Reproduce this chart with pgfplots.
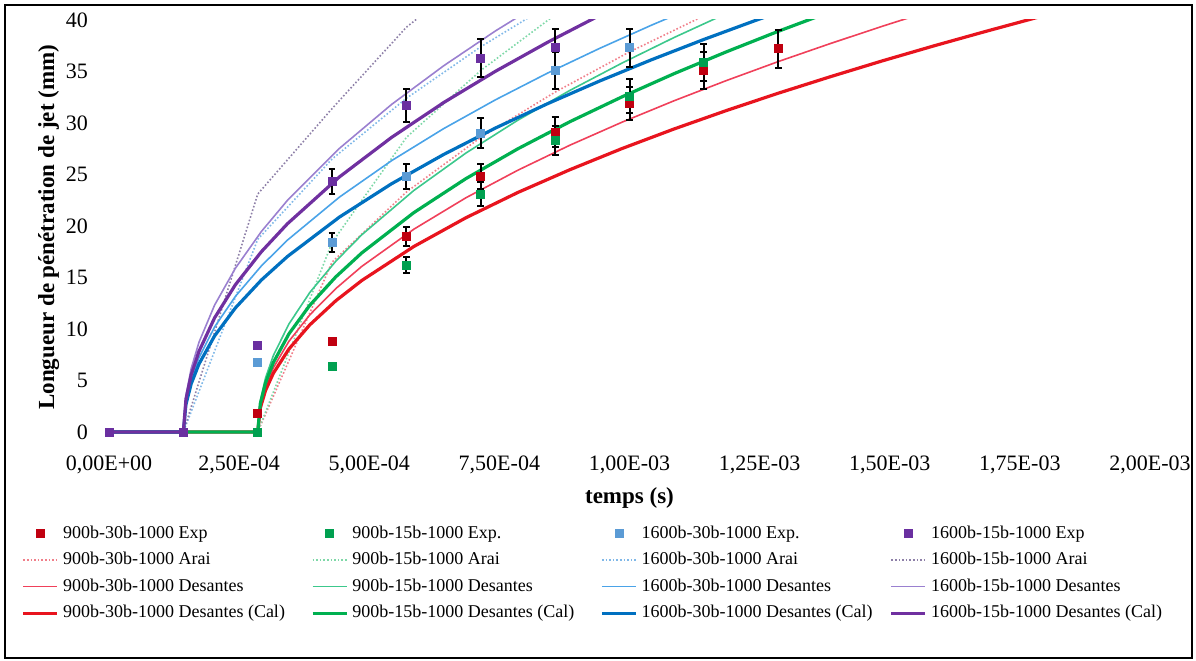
\documentclass[border=0pt]{standalone}
\usepackage{fontspec}
\setmainfont{Liberation Serif}
\usepackage{pgfplots}
\pgfplotsset{compat=1.18}
\definecolor{redExp}{HTML}{C00010}
\definecolor{redThick}{HTML}{E8141E}
\definecolor{redThin}{HTML}{F0405A}
\definecolor{redDot}{HTML}{F07F8A}
\definecolor{greenExp}{HTML}{00A050}
\definecolor{greenThick}{HTML}{00B050}
\definecolor{greenThin}{HTML}{3CC88C}
\definecolor{greenDot}{HTML}{7FD8A8}
\definecolor{blueExp}{HTML}{5B9BD5}
\definecolor{blueThick}{HTML}{0070C0}
\definecolor{blueThin}{HTML}{4AA3E8}
\definecolor{blueDot}{HTML}{80B8E8}
\definecolor{purpExp}{HTML}{6A2FA0}
\definecolor{purpThick}{HTML}{7030A0}
\definecolor{purpThin}{HTML}{9A80D0}
\definecolor{purpDot}{HTML}{8E80A8}
\newcommand{\LE}[1]{\makebox[122pt][l]{#1}}
\begin{document}
\begin{tikzpicture}
\useasboundingbox (-54.5pt,-114pt) rectangle (543.5pt,216pt);
\draw[line width=1.2pt] (-52pt,-113pt) rectangle (541.5pt,213.5pt);
\begin{axis}[
  at={(0,-1.29pt)}, anchor=south west,
  scale only axis, width=520.5pt, height=207.3pt,
  xmin=0, xmax=2e-3, ymin=-0.25, ymax=40,
  axis line style={draw=none}, major tick length=0pt,
  scaled x ticks=false, scaled y ticks=false,
  xtick={0,2.5e-4,5e-4,7.5e-4,1e-3,1.25e-3,1.5e-3,1.75e-3,2e-3},
  xticklabels={{0,00E+00},{2,50E-04},{5,00E-04},{7,50E-04},{1,00E-03},{1,25E-03},{1,50E-03},{1,75E-03},{2,00E-03}},
  ytick={0,5,10,15,20,25,30,35,40},
  yticklabels={0,5,10,15,20,25,30,35,40},
  ticklabel style={font=\fontsize{11}{12}\selectfont},
  xticklabel style={yshift=-7pt},
  yticklabel style={xshift=-7pt},
  xlabel={\textbf{temps (s)}},
  ylabel={\textbf{Longueur de pénétration de jet (mm)}},
  ylabel shift=-3.5pt,
  label style={font=\fontsize{11.5}{13}\selectfont},
  legend columns=4,
  legend cell align=left,
  legend style={draw=none, fill=none, font=\fontsize{9}{10}\selectfont,
    at={(-0.09,-0.2)}, anchor=north west,
    /tikz/every even column/.append style={column sep=0pt},
    row sep=1.5pt},
]
% legend
\addlegendimage{only marks, mark=square*, mark size=2pt, color=redExp}
\addlegendentry{\LE{900b-30b-1000 Exp}}
\addlegendimage{only marks, mark=square*, mark size=2pt, color=greenExp}
\addlegendentry{\LE{900b-15b-1000 Exp.}}
\addlegendimage{only marks, mark=square*, mark size=2pt, color=blueExp}
\addlegendentry{\LE{1600b-30b-1000 Exp.}}
\addlegendimage{only marks, mark=square*, mark size=2pt, color=purpExp}
\addlegendentry{\LE{1600b-15b-1000 Exp}}
\addlegendimage{densely dotted, line width=0.8pt, color=redDot}
\addlegendentry{\LE{900b-30b-1000 Arai}}
\addlegendimage{densely dotted, line width=0.8pt, color=greenDot}
\addlegendentry{\LE{900b-15b-1000 Arai}}
\addlegendimage{densely dotted, line width=0.8pt, color=blueDot}
\addlegendentry{\LE{1600b-30b-1000 Arai}}
\addlegendimage{densely dotted, line width=0.8pt, color=purpDot}
\addlegendentry{\LE{1600b-15b-1000 Arai}}
\addlegendimage{line width=0.8pt, color=redThin}
\addlegendentry{\LE{900b-30b-1000 Desantes}}
\addlegendimage{line width=0.8pt, color=greenThin}
\addlegendentry{\LE{900b-15b-1000 Desantes}}
\addlegendimage{line width=0.8pt, color=blueThin}
\addlegendentry{\LE{1600b-30b-1000 Desantes}}
\addlegendimage{line width=0.8pt, color=purpThin}
\addlegendentry{\LE{1600b-15b-1000 Desantes}}
\addlegendimage{line width=1.6pt, color=redThick}
\addlegendentry{\LE{900b-30b-1000 Desantes (Cal)}}
\addlegendimage{line width=1.6pt, color=greenThick}
\addlegendentry{\LE{900b-15b-1000 Desantes (Cal)}}
\addlegendimage{line width=1.6pt, color=blueThick}
\addlegendentry{\LE{1600b-30b-1000 Desantes (Cal)}}
\addlegendimage{line width=1.6pt, color=purpThick}
\addlegendentry{\LE{1600b-15b-1000 Desantes (Cal)}}

% Arai (dotted)
\addplot[forget plot, densely dotted, line width=0.8pt, color=redDot] coordinates {
(0,0) (1.4286e-4,0) (2.8571e-4,0) (4.2857e-4,16.5) (5.7143e-4,23.3) (7.1429e-4,28.6) (8.5714e-4,33.0) (1.0e-3,36.9) (1.1429e-3,40.4)};
\addplot[forget plot, densely dotted, line width=0.8pt, color=greenDot] coordinates {
(0,0) (1.4286e-4,0) (2.8571e-4,0) (4.2857e-4,18.4) (5.7143e-4,28.6) (7.1429e-4,35.1) (8.5714e-4,40.5)};
\addplot[forget plot, densely dotted, line width=0.8pt, color=blueDot] coordinates {
(0,0) (1.4286e-4,0) (2.8571e-4,18.7) (4.2857e-4,26.5) (5.7143e-4,32.4) (7.1429e-4,37.4) (8.5714e-4,41.8)};
\addplot[forget plot, densely dotted, line width=0.8pt, color=purpDot] coordinates {
(0,0) (1.4286e-4,0) (2.8571e-4,23.1) (4.2857e-4,31.4) (5.7143e-4,39.3) (7.1429e-4,45.0)};

% Desantes (thin)
\addplot[forget plot, line width=0.8pt, color=redThin] coordinates {
(0,0) (1.4286e-4,0) (2.8571e-4,0) (2.9071e-4,2.54) (3.0071e-4,4.40) (3.1571e-4,6.23) (3.4571e-4,8.81) (3.8571e-4,11.37) (4.3571e-4,13.92) (4.8571e-4,16.08) (5.8571e-4,19.69) (6.8571e-4,22.74) (7.8571e-4,25.42) (8.8571e-4,27.85) (9.8571e-4,30.08) (10.8571e-4,32.16) (11.8571e-4,34.11) (12.8571e-4,35.96) (13.8571e-4,37.71) (14.8571e-4,39.39) (15.8571e-4,41.00)};
\addplot[forget plot, line width=0.8pt, color=greenThin] coordinates {
(0,0) (1.4286e-4,0) (2.8571e-4,0) (2.9071e-4,3.03) (3.0071e-4,5.24) (3.1571e-4,7.42) (3.4571e-4,10.49) (3.8571e-4,13.54) (4.3571e-4,16.58) (4.8571e-4,19.15) (5.8571e-4,23.45) (6.8571e-4,27.08) (7.8571e-4,30.28) (8.8571e-4,33.17) (9.8571e-4,35.82) (10.8571e-4,38.30) (11.8571e-4,40.62)};
\addplot[forget plot, line width=0.8pt, color=blueThin] coordinates {
(0,0) (1.4286e-4,0) (1.4786e-4,2.94) (1.5786e-4,5.10) (1.7286e-4,7.21) (2.0286e-4,10.20) (2.4286e-4,13.17) (2.9286e-4,16.13) (3.4286e-4,18.63) (4.4286e-4,22.81) (5.4286e-4,26.34) (6.4286e-4,29.45) (7.4286e-4,32.26) (8.4286e-4,34.85) (9.4286e-4,37.25) (10.4286e-4,39.51) (11.4286e-4,41.65)};
\addplot[forget plot, line width=0.8pt, color=purpThin] coordinates {
(0,0) (1.4286e-4,0) (1.4786e-4,3.56) (1.5786e-4,6.16) (1.7286e-4,8.71) (2.0286e-4,12.32) (2.4286e-4,15.90) (2.9286e-4,19.47) (3.4286e-4,22.49) (4.4286e-4,27.54) (5.4286e-4,31.80) (6.4286e-4,35.55) (7.4286e-4,38.95) (8.4286e-4,42.07)};

% Desantes (Cal) (thick)
\addplot[forget plot, line width=1.6pt, color=redThick] coordinates {
(0,0) (1.4286e-4,0) (2.8571e-4,0) (2.9071e-4,2.33) (3.0071e-4,4.03) (3.1571e-4,5.70) (3.4571e-4,8.06) (3.8571e-4,10.40) (4.3571e-4,12.74) (4.8571e-4,14.71) (5.8571e-4,18.01) (6.8571e-4,20.80) (7.8571e-4,23.26) (8.8571e-4,25.47) (9.8571e-4,27.52) (10.8571e-4,29.42) (11.8571e-4,31.20) (12.8571e-4,32.89) (13.8571e-4,34.49) (14.8571e-4,36.03) (15.8571e-4,37.50) (16.8571e-4,38.91) (17.8571e-4,40.28)};
\addplot[forget plot, line width=1.6pt, color=greenThick] coordinates {
(0,0) (1.4286e-4,0) (2.8571e-4,0) (2.9071e-4,2.75) (3.0071e-4,4.76) (3.1571e-4,6.74) (3.4571e-4,9.53) (3.8571e-4,12.30) (4.3571e-4,15.06) (4.8571e-4,17.39) (5.8571e-4,21.30) (6.8571e-4,24.60) (7.8571e-4,27.50) (8.8571e-4,30.13) (9.8571e-4,32.54) (10.8571e-4,34.79) (11.8571e-4,36.90) (12.8571e-4,38.90) (13.8571e-4,40.79)};
\addplot[forget plot, line width=1.6pt, color=blueThick] coordinates {
(0,0) (1.4286e-4,0) (1.4786e-4,2.69) (1.5786e-4,4.67) (1.7286e-4,6.60) (2.0286e-4,9.33) (2.4286e-4,12.05) (2.9286e-4,14.76) (3.4286e-4,17.04) (4.4286e-4,20.87) (5.4286e-4,24.10) (6.4286e-4,26.94) (7.4286e-4,29.52) (8.4286e-4,31.88) (9.4286e-4,34.08) (10.4286e-4,36.15) (11.4286e-4,38.11) (12.4286e-4,39.97) (13.4286e-4,41.74)};
\addplot[forget plot, line width=1.6pt, color=purpThick] coordinates {
(0,0) (1.4286e-4,0) (1.4786e-4,3.20) (1.5786e-4,5.54) (1.7286e-4,7.83) (2.0286e-4,11.08) (2.4286e-4,14.30) (2.9286e-4,17.51) (3.4286e-4,20.22) (4.4286e-4,24.77) (5.4286e-4,28.60) (6.4286e-4,31.98) (7.4286e-4,35.03) (8.4286e-4,37.84) (9.4286e-4,40.45)};

% error bars (5 %)
\pgfplotsset{ebar/.style={forget plot, only marks, mark=*, mark size=0.5pt, black,
  error bars/.cd, y dir=both, y fixed relative=0.05, error mark=-,
  error bar style={black, solid, line width=1pt},
  error mark options={rotate=90, black, solid, mark size=1.7pt, line width=1pt}}}
\addplot[ebar] coordinates {(5.7143e-4,19.0) (7.1429e-4,24.8) (8.5714e-4,29.1) (1.0e-3,31.9) (1.1429e-3,35.1) (1.2857e-3,37.2)};
\addplot[ebar] coordinates {(5.7143e-4,16.2) (7.1429e-4,23.1) (8.5714e-4,28.3) (1.0e-3,32.6) (1.1429e-3,35.9)};
\addplot[ebar] coordinates {(4.2857e-4,18.4) (5.7143e-4,24.8) (7.1429e-4,29.0) (8.5714e-4,35.1) (1.0e-3,37.3)};
\addplot[ebar] coordinates {(4.2857e-4,24.3) (5.7143e-4,31.7) (7.1429e-4,36.3) (8.5714e-4,37.3)};

% experimental points
\addplot[forget plot, only marks, mark=square*, mark size=2pt, color=redExp] coordinates {
(0,0) (1.4286e-4,0) (2.8571e-4,1.8) (4.2857e-4,8.8) (5.7143e-4,19.0) (7.1429e-4,24.8) (8.5714e-4,29.1) (1.0e-3,31.9) (1.1429e-3,35.1) (1.2857e-3,37.2)};
\addplot[forget plot, only marks, mark=square*, mark size=2pt, color=greenExp] coordinates {
(0,0) (1.4286e-4,0) (2.8571e-4,0) (4.2857e-4,6.4) (5.7143e-4,16.2) (7.1429e-4,23.1) (8.5714e-4,28.3) (1.0e-3,32.6) (1.1429e-3,35.9)};
\addplot[forget plot, only marks, mark=square*, mark size=2pt, color=blueExp] coordinates {
(0,0) (1.4286e-4,0) (2.8571e-4,6.8) (4.2857e-4,18.4) (5.7143e-4,24.8) (7.1429e-4,29.0) (8.5714e-4,35.1) (1.0e-3,37.3)};
\addplot[forget plot, only marks, mark=square*, mark size=2pt, color=purpExp] coordinates {
(0,0) (1.4286e-4,0) (2.8571e-4,8.4) (4.2857e-4,24.3) (5.7143e-4,31.7) (7.1429e-4,36.3) (8.5714e-4,37.3)};
\end{axis}
\end{tikzpicture}
\end{document}
